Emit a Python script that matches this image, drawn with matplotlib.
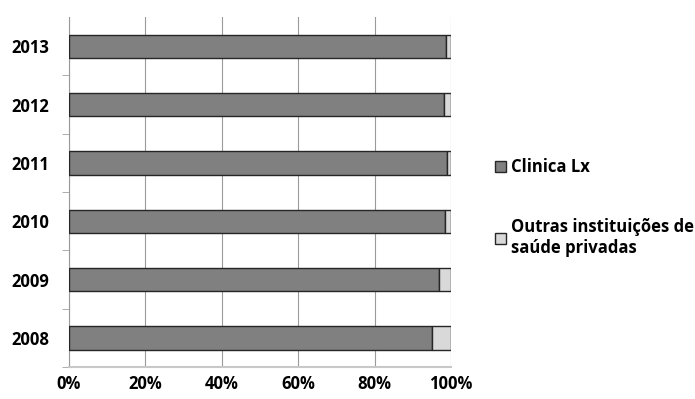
import matplotlib.pyplot as plt
from matplotlib.patches import Patch
from matplotlib.ticker import FuncFormatter

plt.rcParams['font.family'] = ['Open Sans', 'DejaVu Sans']

anos = ['2008', '2009', '2010', '2011', '2012', '2013']
clinica_lx = [95.1, 96.9, 98.3, 98.9, 98.1, 98.6]
outras = [100 - v for v in clinica_lx]

fig = plt.figure(figsize=(6.95, 3.99), dpi=100)
ax = fig.add_axes([0.0993, 0.0802, 0.5497, 0.877])

y = range(len(anos))
ax.barh(y, clinica_lx, height=0.4, color='#808080', edgecolor='#262626', linewidth=1, zorder=3)
ax.barh(y, outras, left=clinica_lx, height=0.4, color='#d9d9d9', edgecolor='#262626', linewidth=1, zorder=3)

ax.set_xlim(0, 100)
ax.set_ylim(-0.5, len(anos) - 0.5)
ax.set_xticks([0, 20, 40, 60, 80, 100])
ax.xaxis.set_major_formatter(FuncFormatter(lambda v, p: f'{v:.0f}%'))
ax.set_yticks(list(y))
ax.set_yticklabels(anos)
# tick marks sit between the categories
ax.set_yticks([i + 0.5 for i in range(len(anos) - 1)] + [-0.5], minor=True)
ax.tick_params(axis='y', which='major', length=0, pad=14)
ax.tick_params(axis='y', which='minor', length=5, color='#a0a0a0', direction='out')
ax.tick_params(axis='x', length=0, pad=6)
for lbl in ax.get_xticklabels() + ax.get_yticklabels():
    lbl.set_fontweight('bold')
    lbl.set_fontsize(12)

ax.grid(axis='x', color='#9a9a9a', linewidth=0.8, zorder=0)
for s in ['top', 'right']:
    ax.spines[s].set_visible(False)
ax.spines['left'].set_color('#9a9a9a')
ax.spines['bottom'].set_color('#c8c8c8')
ax.spines['bottom'].set_linewidth(1.5)

handles = [Patch(facecolor='#808080', edgecolor='#262626', label='Clinica Lx'),
           Patch(facecolor='#d9d9d9', edgecolor='#262626', label='Outras instituições de\nsaúde privadas')]
fig.legend(handles=handles, loc='center left', bbox_to_anchor=(0.69, 0.48), frameon=False,
           prop={'weight': 'bold', 'size': 12}, handlelength=0.7, handleheight=0.7,
           handletextpad=0.3, labelspacing=2.5)

fig.savefig('out.png')
